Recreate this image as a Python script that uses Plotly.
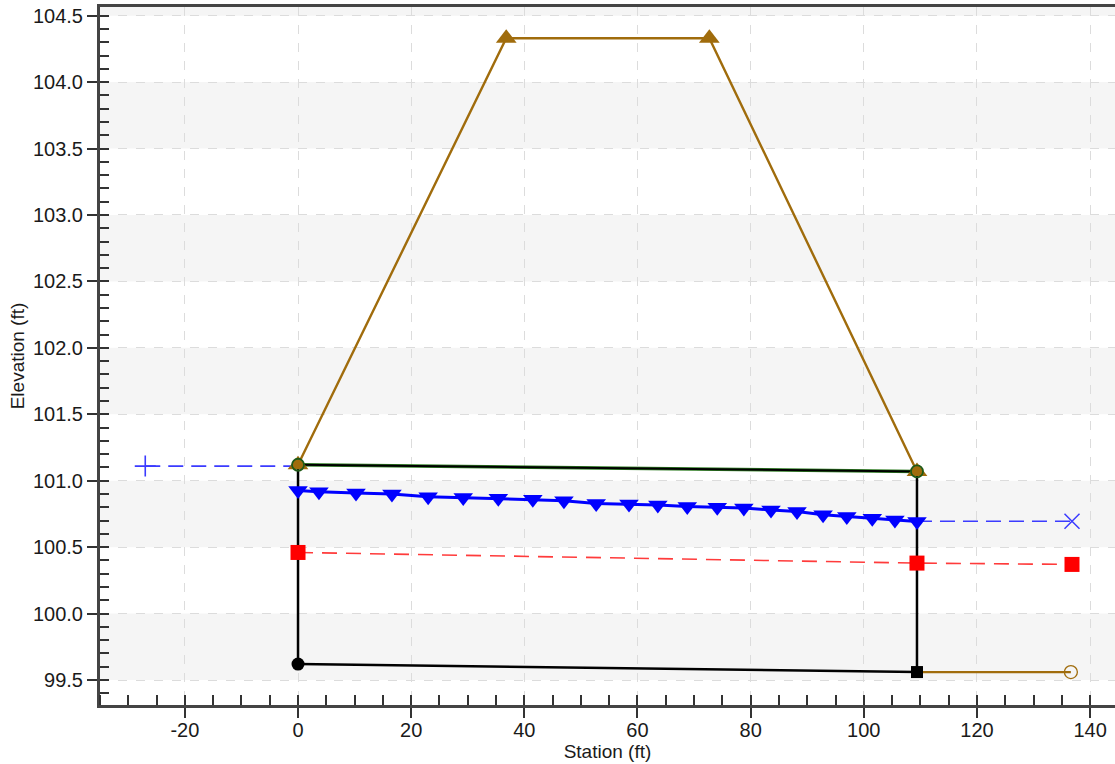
import plotly.graph_objects as go

# ---- data ----
deck_x = [0.0, 36.8, 72.7, 109.4]
deck_y = [101.12, 104.33, 104.33, 101.07]

ground_x = [109.4, 136.6]
ground_y = [99.56, 99.56]

box_top_x = [0.0, 109.4]
box_top_y = [101.12, 101.07]

box_inv_x = [0.0, 109.4]
box_inv_y = [99.62, 99.56]

ws_x = [0.0, 3.7, 10.25, 16.6, 23.0, 29.2, 35.4, 41.5, 47.0, 52.7, 58.5,
        63.6, 68.8, 74.1, 78.8, 83.6, 88.2, 92.8, 97.0, 101.5, 105.5, 109.4]
ws_y = [100.926, 100.916, 100.907, 100.90, 100.88, 100.873, 100.868, 100.861,
        100.85, 100.828, 100.824, 100.818, 100.806, 100.80, 100.795, 100.78,
        100.768, 100.743, 100.73, 100.718, 100.705, 100.693]

up_ws_x = [-27.0, 0.0]
up_ws_y = [101.11, 101.11]
dn_ws_x = [109.4, 136.8]
dn_ws_y = [100.695, 100.695]

crit_x = [0.0, 109.4, 136.8]
crit_y = [100.46, 100.38, 100.37]

x_tick_vals = [-20, 0, 20, 40, 60, 80, 100, 120, 140]
x_tick_text = ["-20", "0", "20", "40", "60", "80", "100", "120", "140"]

x_range = [-35.0, 144.4]
y_range = [99.312, 104.565]
band_lows = [99.5, 100.5, 101.5, 102.5, 103.5, 104.5]

BROWN = "#a06c0c"
BLUE_D = "#3b3bff"
fig = go.Figure()

# culvert box: green top line under black
fig.add_trace(go.Scatter(x=box_top_x, y=box_top_y, mode="lines",
                         line=dict(color="#2e7d22", width=3.5)))
fig.add_trace(go.Scatter(x=box_top_x, y=box_top_y, mode="lines",
                         line=dict(color="black", width=2)))
fig.add_trace(go.Scatter(x=[box_inv_x[0], box_top_x[0]], y=[box_inv_y[0], box_top_y[0]],
                         mode="lines", line=dict(color="black", width=2.5)))
fig.add_trace(go.Scatter(x=[box_inv_x[1], box_top_x[1]], y=[box_inv_y[1], box_top_y[1]],
                         mode="lines", line=dict(color="black", width=2.5)))
fig.add_trace(go.Scatter(x=box_inv_x, y=box_inv_y, mode="lines",
                         line=dict(color="black", width=2.5)))

# ground downstream
fig.add_trace(go.Scatter(x=ground_x, y=ground_y, mode="lines",
                         line=dict(color=BROWN, width=2.2)))
fig.add_trace(go.Scatter(x=[ground_x[-1]], y=[ground_y[-1]], mode="markers",
                         marker=dict(symbol="circle-open", size=13, color=BROWN,
                                     line=dict(width=1.3, color=BROWN))))

# critical depth (red dashed)
fig.add_trace(go.Scatter(x=crit_x, y=crit_y, mode="lines",
                         line=dict(color="#ff3b3b", width=1.6, dash="15px,9px")))
fig.add_trace(go.Scatter(x=crit_x, y=crit_y, mode="markers",
                         marker=dict(symbol="square", size=15, color="#ff0000")))

# upstream / downstream WS (blue dashed)
fig.add_trace(go.Scatter(x=up_ws_x, y=up_ws_y, mode="lines",
                         line=dict(color=BLUE_D, width=1.6, dash="15px,8px")))
fig.add_trace(go.Scatter(x=[up_ws_x[0]], y=[up_ws_y[0]], mode="markers",
                         marker=dict(symbol="cross-thin-open", size=15, color=BLUE_D,
                                     line=dict(width=1.6, color=BLUE_D))))
fig.add_trace(go.Scatter(x=dn_ws_x, y=dn_ws_y, mode="lines",
                         line=dict(color=BLUE_D, width=1.6, dash="15px,8px")))
fig.add_trace(go.Scatter(x=[dn_ws_x[-1]], y=[dn_ws_y[-1]], mode="markers",
                         marker=dict(symbol="x-thin-open", size=15, color=BLUE_D,
                                     line=dict(width=1.5, color=BLUE_D))))

# water surface in culvert
fig.add_trace(go.Scatter(x=ws_x, y=ws_y, mode="lines+markers",
                         line=dict(color="#0000ff", width=3),
                         marker=dict(symbol="triangle-down", size=17, color="#0000ff")))

# invert markers
fig.add_trace(go.Scatter(x=[box_inv_x[0]], y=[box_inv_y[0]], mode="markers",
                         marker=dict(symbol="circle", size=13, color="black")))
fig.add_trace(go.Scatter(x=[box_inv_x[1]], y=[box_inv_y[1]], mode="markers",
                         marker=dict(symbol="square", size=12, color="black")))

# deck / road
fig.add_trace(go.Scatter(x=deck_x, y=deck_y, mode="lines+markers",
                         line=dict(color=BROWN, width=2.4),
                         marker=dict(symbol="triangle-up", size=18, color=BROWN)))
# top-of-box circles
fig.add_trace(go.Scatter(x=box_top_x, y=box_top_y, mode="markers",
                         marker=dict(symbol="circle-open", size=12, color="#1f5a17",
                                     line=dict(width=1.8, color="#1f5a17"))))

shapes = []
for lo in band_lows:
    shapes.append(dict(type="rect", xref="paper", x0=0, x1=1, yref="y",
                       y0=lo, y1=lo + 0.5, layer="below", line=dict(width=0),
                       fillcolor="#f5f5f5"))

tickfont = dict(family="Liberation Sans, Arial, sans-serif", size=20, color="#1a1a1a")
titlefont = dict(family="Liberation Sans, Arial, sans-serif", size=19, color="#1a1a1a")

fig.update_layout(
    width=1115, height=764,
    margin=dict(l=100, r=0, t=7, b=59),
    paper_bgcolor="white", plot_bgcolor="white",
    showlegend=False, hovermode=False,
    shapes=shapes,
    xaxis=dict(range=x_range, tickmode="array", tickvals=x_tick_vals, ticktext=x_tick_text,
               ticks="outside", ticklen=10, ticklabelstandoff=-5,
               tickwidth=1.5, tickcolor="#333", showline=True, linecolor="#444",
               linewidth=3, mirror=True, showgrid=True, gridcolor="#dcdcdc",
               griddash="dash", gridwidth=1, zeroline=False, tickfont=tickfont,
               title=dict(text="Station (ft)", font=titlefont, standoff=0),
               minor=dict(dtick=5, tick0=0, ticks="inside", ticklen=10, tickwidth=1.5,
                          tickcolor="#333", showgrid=False)),
    yaxis=dict(range=y_range, tick0=99.5, dtick=0.5, tickformat=".1f",
               ticks="outside", ticklen=10, tickwidth=1.5, tickcolor="#333",
               showline=True, linecolor="#444", linewidth=3, showgrid=True,
               gridcolor="#dcdcdc", griddash="dash", gridwidth=1, zeroline=False,
               tickfont=tickfont,
               title=dict(text="Elevation (ft)", font=titlefont, standoff=4),
               minor=dict(dtick=0.1, tick0=99.5, ticks="inside", ticklen=9, tickwidth=1.5,
                          tickcolor="#333", showgrid=False)),
)

fig.write_html("out.html", config={"displayModeBar": False},
               post_script="document.body.style.margin='0px';document.body.style.overflow='hidden';")
